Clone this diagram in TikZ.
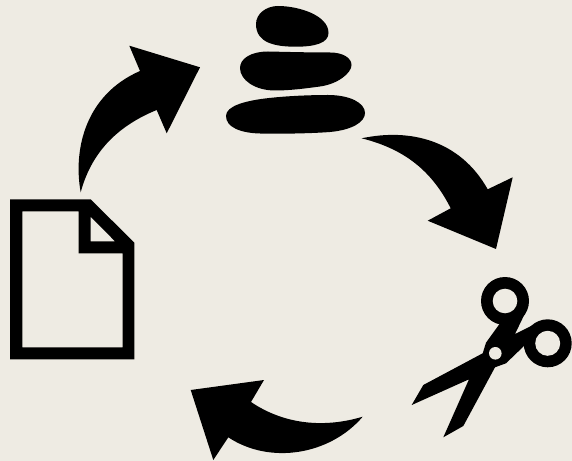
\documentclass[tikz,border=0pt]{standalone}
\definecolor{paper}{HTML}{EEEBE3}
\tikzset{
  ink/.style={fill=black,draw=none},
  hole/.style={fill=paper,draw=none}
}
\begin{document}
\begin{tikzpicture}[x=1bp,y=-1bp]
\useasboundingbox (0,0) rectangle (572,461);
\fill[paper] (0,0) rectangle (572,461);
% document
\fill[ink,even odd rule] (10,199.3) -- (90.7,199.3) -- (134.3,242.7) -- (134.3,359.3) -- (10,359.3) -- cycle
  (22.3,211.3) -- (78.7,211.3) -- (78.7,253.3) -- (122.7,253.3) -- (122.7,347.3) -- (22.3,347.3) -- cycle
  (90.7,216.7) -- (115,241.3) -- (90.7,241.3) -- cycle;
% stones
\fill[ink] (256,24) .. controls (256,14) and (266,6) .. (278,6) .. controls (298,6) and (328.5,15) .. (328.5,33) .. controls (328.5,43) and (315,46.7) .. (296,46.7) .. controls (275,46.7) and (256,43) .. (256,24) -- cycle;
\fill[ink] (240,68) .. controls (240,58) and (252,51.5) .. (268,51.5) .. controls (290,52) and (310,52.5) .. (330,52.5) .. controls (343,52.5) and (351.5,58) .. (351.5,65) .. controls (351.5,73) and (338,84) .. (320,86.5) .. controls (305,88.5) and (290,90.5) .. (275,90.5) .. controls (255,90.5) and (240,80) .. (240,68) -- cycle;
\fill[ink] (226,116) .. controls (226,106) and (245,101) .. (265,98.5) .. controls (285,96) and (310,95) .. (328,95) .. controls (350,95) and (365,103) .. (365,113) .. controls (365,122) and (352,130) .. (330,132) .. controls (310,133.5) and (280,134) .. (260,133.5) .. controls (240,133) and (226,127) .. (226,116) -- cycle;
% arrow 1
\fill[ink] (80.7,192.3) .. controls (73,150) and (85,95) .. (140,71) -- (129.3,45.7) -- (200,67.3) -- (166.7,133.3) -- (156.7,110)
  .. controls (120,125) and (92,150) .. (80.7,192.3) -- cycle;
% arrow 2
\fill[ink] (361.7,138.3) .. controls (410,128) and (460,140) .. (487.7,189.3) -- (512.7,177.3) -- (496,249) -- (427.7,220.7) -- (450.7,208.3)
  .. controls (430,167) and (400,148) .. (361.7,138.3) -- cycle;
% arrow 3
\fill[ink] (362.7,416.7) .. controls (325,428) and (285,425) .. (251,402) -- (264,380) -- (190.7,390) -- (213.3,460) -- (228.3,437.3)
  .. controls (270,465) and (330,455) .. (362.7,416.7) -- cycle;
% scissors
\fill[ink] (500,323.3) -- (486,342.7) -- (482.7,353.3) -- (423.3,385) -- (411.7,405) -- (469,379.3) -- (443.3,437.3) -- (463.3,426) -- (495,367.3) -- (506,363.3) -- (525,345) -- (535,324) -- (515,334) -- (525,313.3) -- (503,320) -- cycle;
\fill[ink] (505,301) circle[radius=24];
\fill[ink] (547.7,343.3) circle[radius=24];
\fill[hole] (505,301) circle[radius=12.3];
\fill[hole] (547.7,343.3) circle[radius=12.5];
\fill[hole] (495.3,353.3) circle[radius=6.3];
\end{tikzpicture}
\end{document}
